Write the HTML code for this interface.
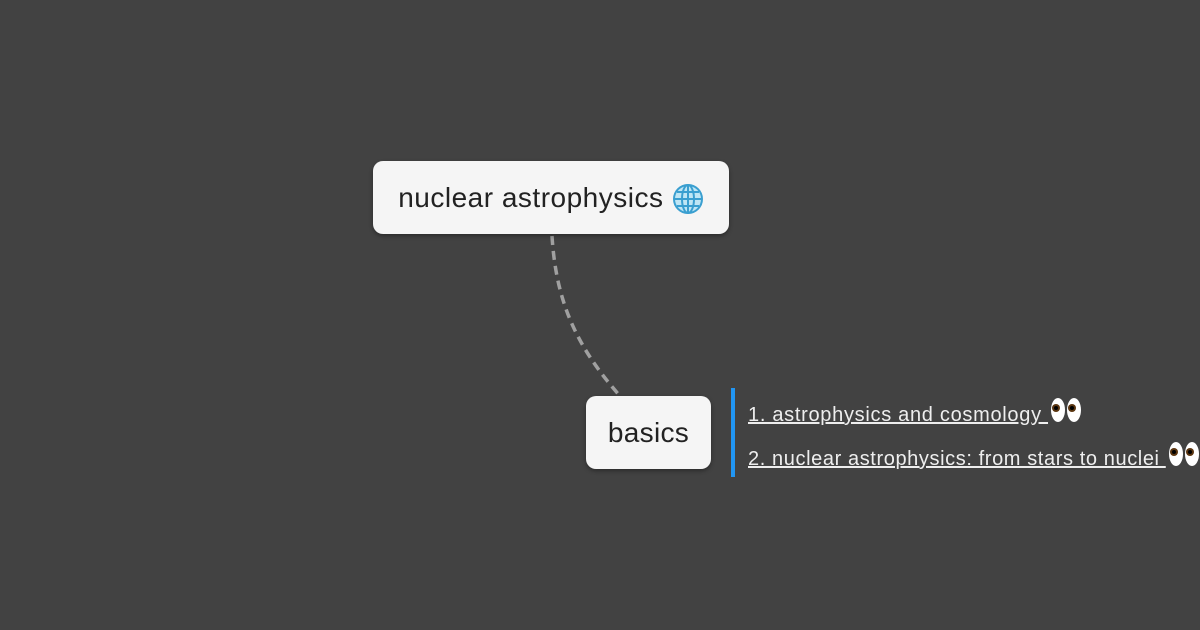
<!DOCTYPE html>
<html><head><meta charset="utf-8"><style>
html,body{margin:0;padding:0;width:1200px;height:630px;background:#424242;overflow:hidden;position:relative;font-family:"Liberation Sans",sans-serif}
.box{position:absolute;background:#f5f5f5;border-radius:10px;box-shadow:0 2px 4px rgba(0,0,0,.35);color:#222;display:flex;align-items:center;justify-content:center;box-sizing:border-box}
.lnk{position:absolute;left:748px;color:#eee;font-size:20px;text-decoration:underline;white-space:nowrap;letter-spacing:0.7px}
.eyes{display:inline-block;vertical-align:-2px;margin-left:2px}
</style></head><body>
<svg width="1200" height="630" style="position:absolute;left:0;top:0">
<path d="M552 236 C556 300 575 345 620 396" fill="none" stroke="#a0a0a0" stroke-width="3.5" stroke-dasharray="9,6"/>
<rect x="731" y="388" width="4" height="89" fill="#2196f3"/>
</svg>
<div class="box" style="left:373px;top:161px;width:356px;height:73px;font-size:28px;letter-spacing:0.5px">nuclear astrophysics&nbsp;<svg width="32" height="32" viewBox="0 0 32 32" style="margin-top:2px"><circle cx="16" cy="16" r="14" fill="#bfe6f5" stroke="#3a9fd0" stroke-width="2"/><ellipse cx="16" cy="16" rx="6" ry="14" fill="none" stroke="#3a9fd0" stroke-width="2"/><line x1="2" y1="16" x2="30" y2="16" stroke="#3a9fd0" stroke-width="2"/><line x1="16" y1="2" x2="16" y2="30" stroke="#3a9fd0" stroke-width="2"/><line x1="5" y1="9" x2="27" y2="9" stroke="#3a9fd0" stroke-width="2"/><line x1="5" y1="23" x2="27" y2="23" stroke="#3a9fd0" stroke-width="2"/></svg></div>
<div class="box" style="left:586px;top:396px;width:125px;height:73px;font-size:28px;letter-spacing:0.3px">basics</div>
<div class="lnk" style="top:397px;">1. astrophysics and cosmology <svg class="eyes" width="32" height="26" viewBox="0 0 32 26"><ellipse cx="8" cy="13" rx="7" ry="12" fill="#fff"/><ellipse cx="24" cy="13" rx="7" ry="12" fill="#fff"/><circle cx="6" cy="11" r="4" fill="#5a3510"/><circle cx="22" cy="11" r="4" fill="#5a3510"/><circle cx="6" cy="11" r="2" fill="#000"/><circle cx="22" cy="11" r="2" fill="#000"/></svg></div>
<div class="lnk" style="top:441px;letter-spacing:0.6px">2. nuclear astrophysics: from stars to nuclei <svg class="eyes" width="32" height="26" viewBox="0 0 32 26"><ellipse cx="8" cy="13" rx="7" ry="12" fill="#fff"/><ellipse cx="24" cy="13" rx="7" ry="12" fill="#fff"/><circle cx="6" cy="11" r="4" fill="#5a3510"/><circle cx="22" cy="11" r="4" fill="#5a3510"/><circle cx="6" cy="11" r="2" fill="#000"/><circle cx="22" cy="11" r="2" fill="#000"/></svg></div>
</body></html>
